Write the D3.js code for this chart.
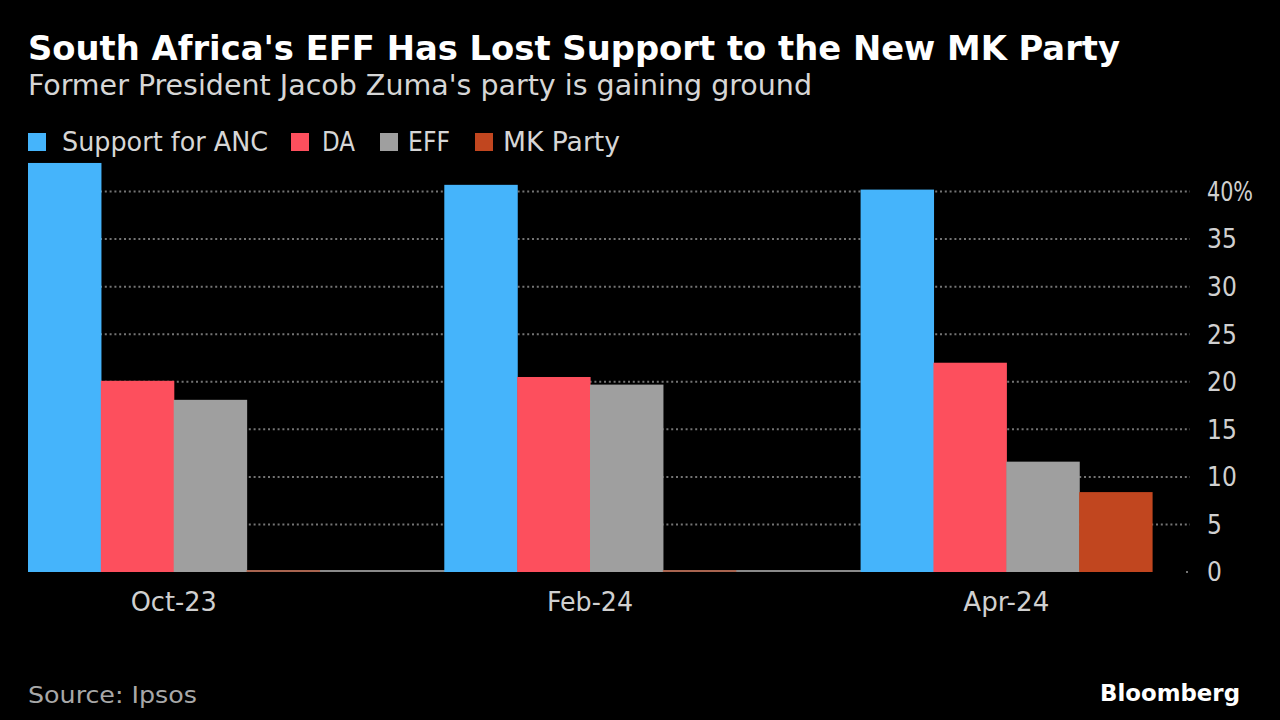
<!DOCTYPE html>
<html>
<head>
<meta charset="utf-8">
<script src="https://cdn.jsdelivr.net/npm/d3@7"></script>
<style>
  html, body { margin: 0; padding: 0; background: #000; }
  svg { display: block; }
  text { font-family: "DejaVu Sans Condensed", "DejaVu Sans", sans-serif; }
</style>
</head>
<body>
<svg id="chart" width="1280" height="720"></svg>
<script>
// ---- data ----
const categories = ["Oct-23", "Feb-24", "Apr-24"];
const seriesNames = ["Support for ANC", "DA", "EFF", "MK Party"];
const seriesColors = ["#45b4fb", "#fd4f5d", "#9f9f9f", "#c1461f"];
const anc = [43.0, 40.7, 40.2];
const da = [20.1, 20.5, 22.0];
const eff = [18.1, 19.7, 11.6];
const mk = [0, 0, 8.4];
const yTicks = [0, 5, 10, 15, 20, 25, 30, 35, 40];
const yTickLabels = ["0", "5", "10", "15", "20", "25", "30", "35", "40%"];

const values = [anc, da, eff, mk];
const rows = categories.map((c, i) => ({
  cat: c,
  vals: seriesNames.map((s, j) => ({ series: s, idx: j, v: values[j][i] }))
}));

const svg = d3.select("#chart");
svg.append("rect").attr("width", 1280).attr("height", 720).attr("fill", "#000");

function fit(sel, w) {
  sel.attr("textLength", w).attr("lengthAdjust", "spacingAndGlyphs");
}

// ---- titles ----
svg.append("text").attr("x", 28).attr("y", 60)
  .attr("fill", "#fff").attr("font-size", 33).attr("font-weight", "bold")
  .text("South Africa's EFF Has Lost Support to the New MK Party")
  .call(fit, 1092);
svg.append("text").attr("x", 28).attr("y", 95)
  .attr("fill", "#d6d6d6").attr("font-size", 28)
  .text("Former President Jacob Zuma's party is gaining ground")
  .call(fit, 784);

// ---- legend ----
const legendPos = [
  { sx: 28, tx: 62, tw: 206 },
  { sx: 291, tx: 322, tw: 33 },
  { sx: 380, tx: 408, tw: 42 },
  { sx: 475, tx: 503, tw: 117 }
];
const lg = svg.append("g");
seriesNames.forEach((s, i) => {
  lg.append("rect").attr("x", legendPos[i].sx).attr("y", 133)
    .attr("width", 18).attr("height", 18).attr("fill", seriesColors[i]);
  lg.append("text").attr("x", legendPos[i].tx).attr("y", 151)
    .attr("fill", "#d6d6d6").attr("font-size", 26)
    .text(s).call(fit, legendPos[i].tw);
});

// ---- scales ----
const x0 = d3.scaleBand().domain(categories).range([28, 1152]).paddingInner(0.3).paddingOuter(0);
const x1 = d3.scaleBand().domain(seriesNames).range([0, x0.bandwidth()]).padding(0);
const y = d3.scaleLinear().domain([0, 40]).range([572, 191.5]);

// ---- gridlines ----
const grid = svg.append("g");
grid.selectAll("line").data(yTicks.filter(t => t > 0)).join("line")
  .attr("x1", 28).attr("x2", 1190)
  .attr("y1", d => y(d)).attr("y2", d => y(d))
  .attr("stroke", "#747474").attr("stroke-width", 2)
  .attr("stroke-dasharray", "2,2.8");
// zero tick dot
svg.append("line").attr("x1", 1186).attr("x2", 1190).attr("y1", y(0)).attr("y2", y(0))
  .attr("stroke", "#747474").attr("stroke-width", 2).attr("stroke-dasharray", "2,2.8");

// ---- baseline ----
svg.append("line").attr("x1", 28).attr("x2", 1152).attr("y1", y(0) - 1).attr("y2", y(0) - 1)
  .attr("stroke", "#8a8a8a").attr("stroke-width", 2);

// ---- bars ----
const groups = svg.append("g").selectAll("g").data(rows).join("g")
  .attr("transform", d => `translate(${x0(d.cat)},0)`);
groups.selectAll("rect").data(d => d.vals).join("rect")
  .attr("x", d => x1(d.series))
  .attr("width", x1.bandwidth() + 0.6)
  .attr("y", d => Math.min(y(d.v), y(0) - 2))
  .attr("height", d => Math.max(y(0) - y(d.v), 2))
  .attr("fill", d => seriesColors[d.idx])
  .attr("opacity", d => d.v === 0 ? 0.55 : 1);

// ---- y axis labels ----
const yl = svg.append("g");
yl.selectAll("text").data(yTicks).join("text")
  .attr("x", 1207).attr("y", d => y(d))
  .attr("dy", "0.36em")
  .attr("fill", "#d0d0d0").attr("font-size", 26)
  .text((d, i) => yTickLabels[i])
  .each(function (d, i) { if (i === yTicks.length - 1) d3.select(this).call(fit, 46); });

// ---- x axis labels ----
svg.append("g").selectAll("text").data(categories).join("text")
  .attr("x", d => x0(d) + x0.bandwidth() / 2).attr("y", 611)
  .attr("text-anchor", "middle")
  .attr("fill", "#d0d0d0").attr("font-size", 26)
  .text(d => d)
  .call(fit, 86);

// ---- footer ----
svg.append("text").attr("x", 28).attr("y", 703)
  .attr("fill", "#a8a8a8").attr("font-size", 23)
  .text("Source: Ipsos").call(fit, 169);
svg.append("text").attr("x", 1240).attr("y", 701)
  .attr("text-anchor", "end")
  .attr("fill", "#fff").attr("font-size", 23).attr("font-weight", "bold")
  .text("Bloomberg").call(fit, 140);
</script>
</body>
</html>
